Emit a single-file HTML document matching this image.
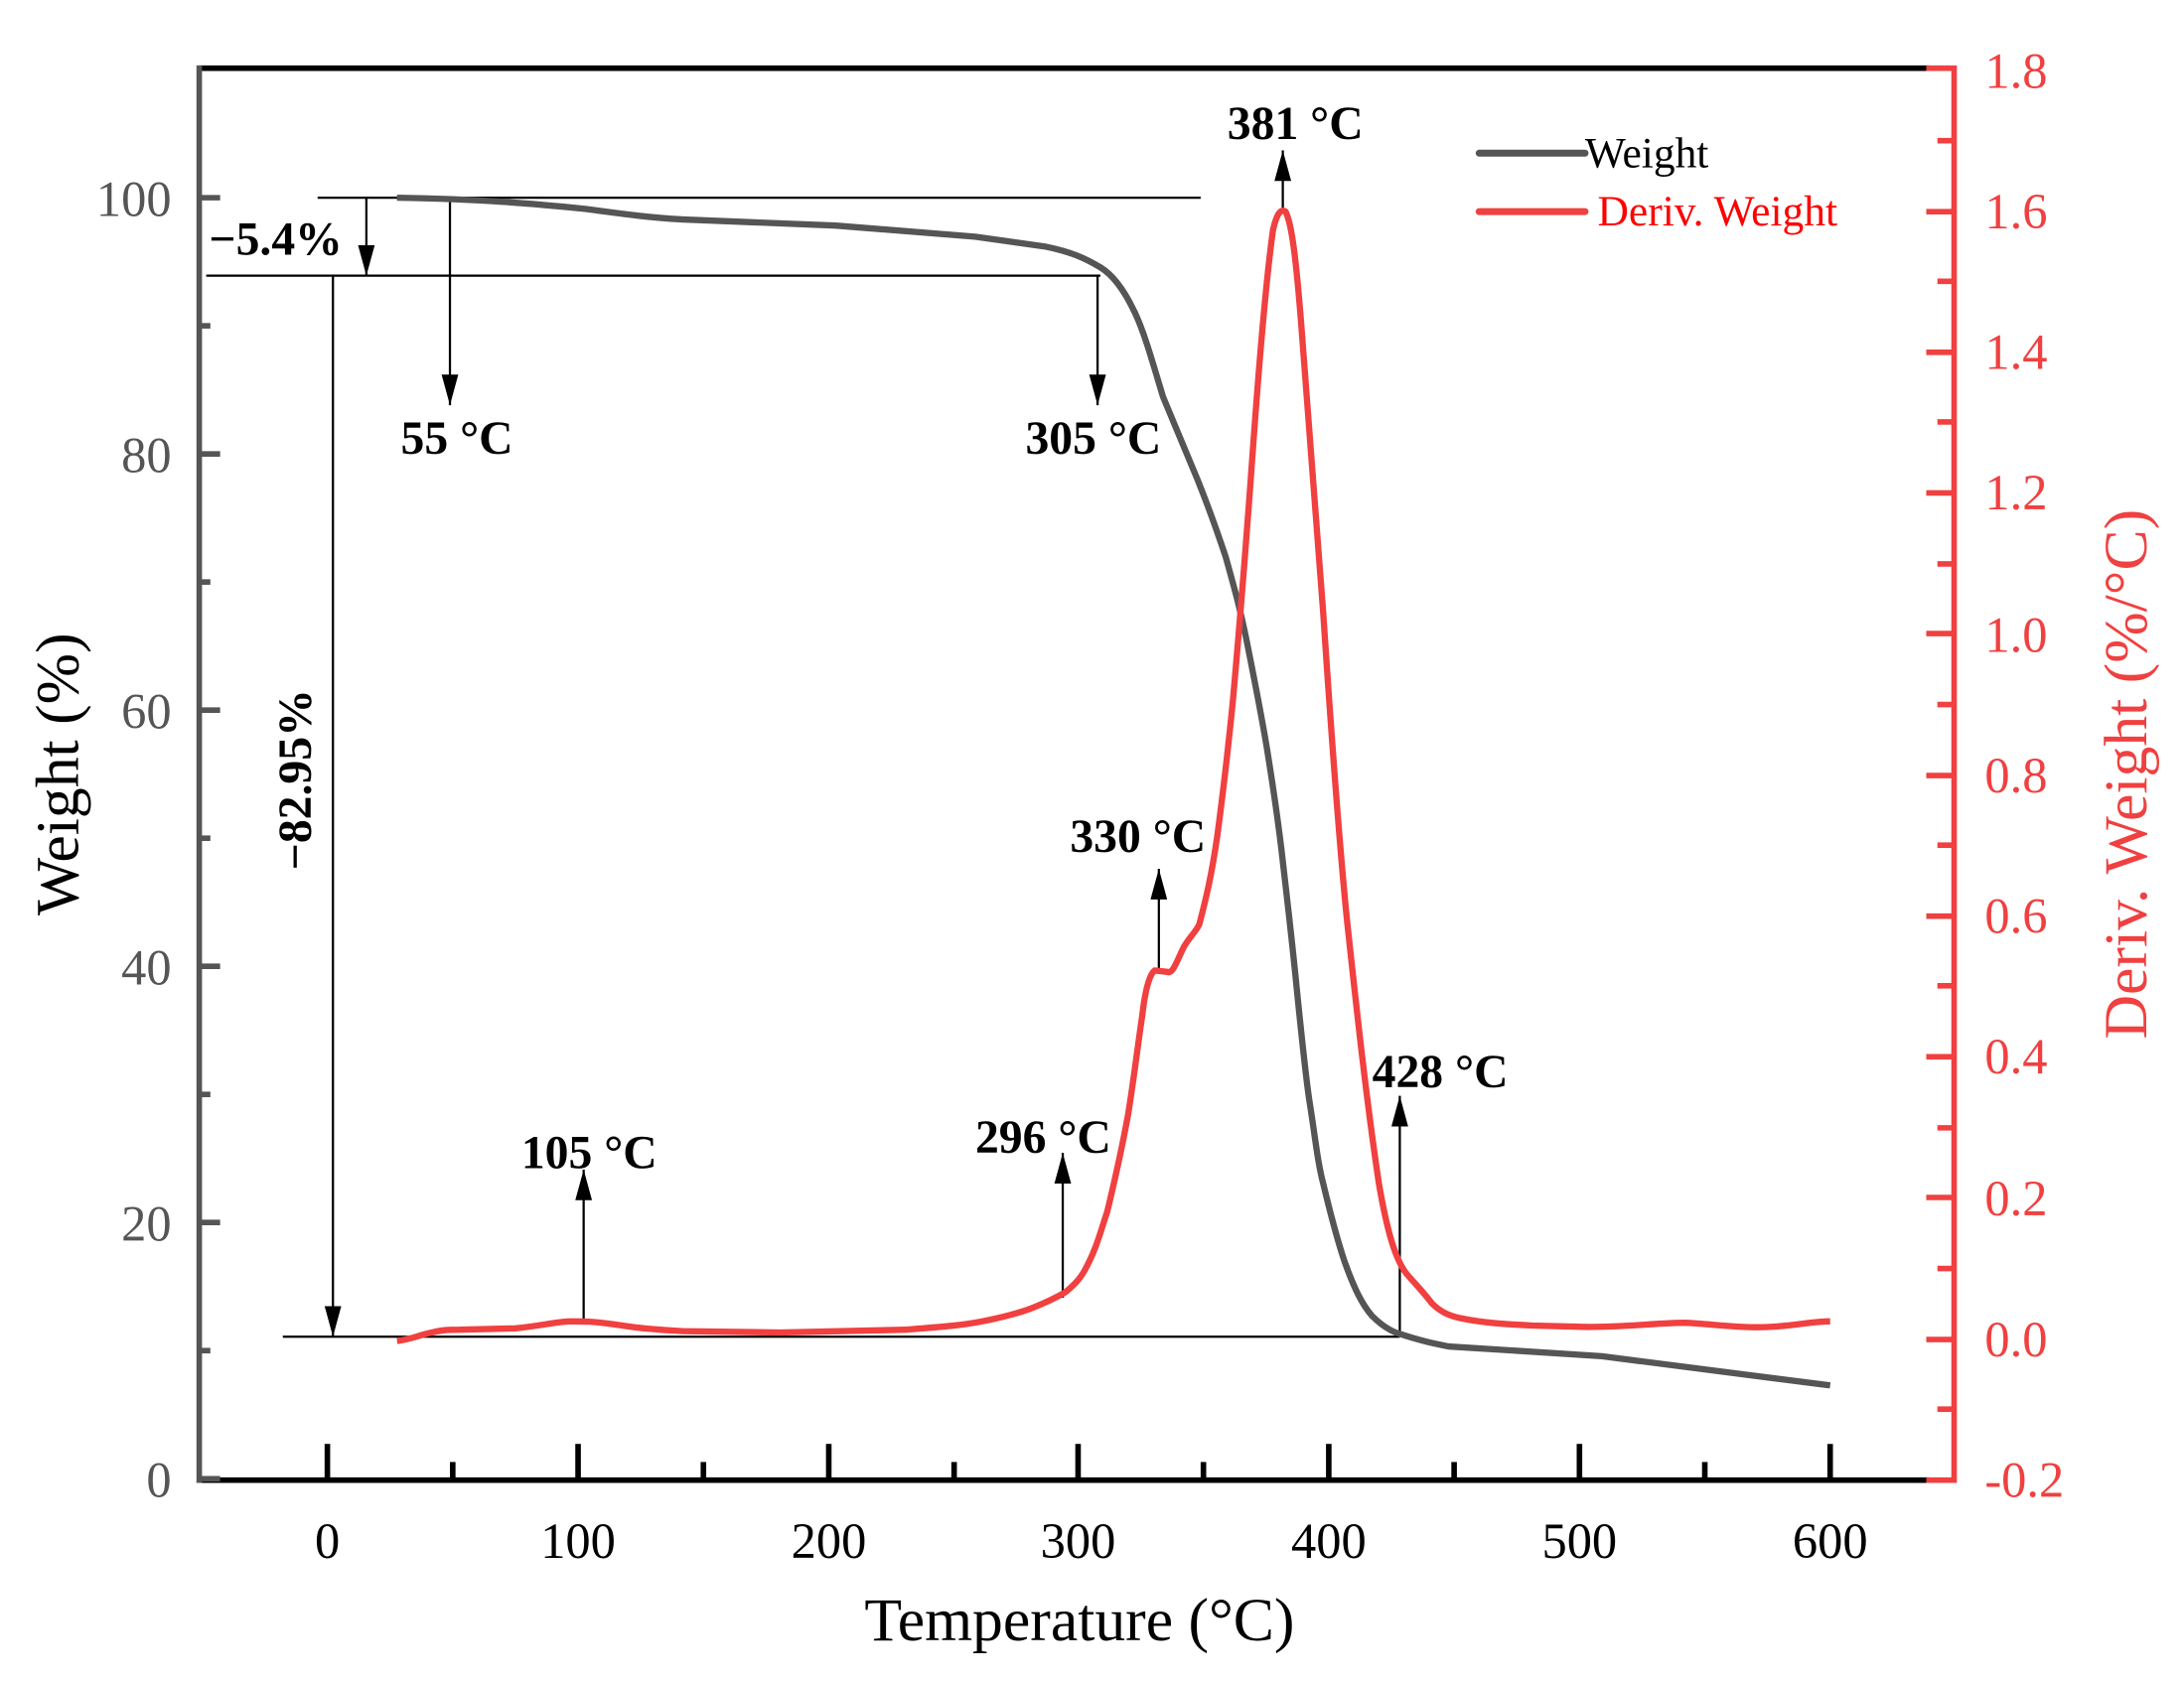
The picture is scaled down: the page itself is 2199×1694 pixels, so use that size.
<!DOCTYPE html>
<html><head><meta charset="utf-8"><style>html,body{margin:0;padding:0;background:#fff}svg{display:block}</style></head><body>
<svg width="2199" height="1694" viewBox="0 0 1568 1208" xmlns="http://www.w3.org/2000/svg" font-family="Liberation Serif, serif">
<defs><marker id="ah" viewBox="0 0 22 12" refX="22" refY="6" markerWidth="22" markerHeight="12" markerUnits="userSpaceOnUse" orient="auto"><path d="M0,0 L22,6 L0,12 Z" fill="#000"/></marker></defs>
<line x1="143" y1="49" x2="1385" y2="49" stroke="#000" stroke-width="4"/>
<line x1="143" y1="1063" x2="1385" y2="1063" stroke="#000" stroke-width="4"/>
<line x1="143" y1="47" x2="143" y2="1065" stroke="#555" stroke-width="4"/>
<path d="M1383,49 H1403 V1063 H1383" fill="none" stroke="#f04040" stroke-width="4"/>
<g stroke="#555" stroke-width="4">
<line x1="143" y1="1062" x2="158" y2="1062"/><line x1="143" y1="970" x2="151" y2="970"/><line x1="143" y1="878" x2="158" y2="878"/><line x1="143" y1="786" x2="151" y2="786"/><line x1="143" y1="694" x2="158" y2="694"/><line x1="143" y1="602" x2="151" y2="602"/><line x1="143" y1="510" x2="158" y2="510"/><line x1="143" y1="418" x2="151" y2="418"/><line x1="143" y1="326" x2="158" y2="326"/><line x1="143" y1="234" x2="151" y2="234"/><line x1="143" y1="142" x2="158" y2="142"/>
</g>
<g stroke="#000" stroke-width="4">
<line x1="235" y1="1063" x2="235" y2="1037"/><line x1="325" y1="1063" x2="325" y2="1050"/><line x1="415" y1="1063" x2="415" y2="1037"/><line x1="505" y1="1063" x2="505" y2="1050"/><line x1="595" y1="1063" x2="595" y2="1037"/><line x1="685" y1="1063" x2="685" y2="1050"/><line x1="774" y1="1063" x2="774" y2="1037"/><line x1="864" y1="1063" x2="864" y2="1050"/><line x1="954" y1="1063" x2="954" y2="1037"/><line x1="1044" y1="1063" x2="1044" y2="1050"/><line x1="1134" y1="1063" x2="1134" y2="1037"/><line x1="1224" y1="1063" x2="1224" y2="1050"/><line x1="1314" y1="1063" x2="1314" y2="1037"/>
</g>
<g stroke="#f04040" stroke-width="4">
<line x1="1403" y1="1012" x2="1391" y2="1012"/><line x1="1403" y1="962" x2="1383" y2="962"/><line x1="1403" y1="911" x2="1391" y2="911"/><line x1="1403" y1="860" x2="1383" y2="860"/><line x1="1403" y1="810" x2="1391" y2="810"/><line x1="1403" y1="759" x2="1383" y2="759"/><line x1="1403" y1="708" x2="1391" y2="708"/><line x1="1403" y1="658" x2="1383" y2="658"/><line x1="1403" y1="607" x2="1391" y2="607"/><line x1="1403" y1="557" x2="1383" y2="557"/><line x1="1403" y1="506" x2="1391" y2="506"/><line x1="1403" y1="455" x2="1383" y2="455"/><line x1="1403" y1="405" x2="1391" y2="405"/><line x1="1403" y1="354" x2="1383" y2="354"/><line x1="1403" y1="303" x2="1391" y2="303"/><line x1="1403" y1="253" x2="1383" y2="253"/><line x1="1403" y1="202" x2="1391" y2="202"/><line x1="1403" y1="152" x2="1383" y2="152"/><line x1="1403" y1="101" x2="1391" y2="101"/>
</g>
<g fill="#555" font-size="36" text-anchor="end">
<text x="123" y="1075">0</text><text x="123" y="891">20</text><text x="123" y="707">40</text><text x="123" y="523">60</text><text x="123" y="339">80</text><text x="123" y="155">100</text>
</g>
<g fill="#000" font-size="36" text-anchor="middle">
<text x="235" y="1119">0</text><text x="415" y="1119">100</text><text x="595" y="1119">200</text><text x="774" y="1119">300</text><text x="954" y="1119">400</text><text x="1134" y="1119">500</text><text x="1314" y="1119">600</text>
</g>
<g fill="#f04040" font-size="36">
<text x="1425" y="1075">-0.2</text><text x="1425" y="974">0.0</text><text x="1425" y="873">0.2</text><text x="1425" y="771">0.4</text><text x="1425" y="670">0.6</text><text x="1425" y="569">0.8</text><text x="1425" y="468">1.0</text><text x="1425" y="366">1.2</text><text x="1425" y="265">1.4</text><text x="1425" y="164">1.6</text><text x="1425" y="63">1.8</text>
</g>
<text x="775" y="1178" font-size="44" text-anchor="middle">Temperature (°C)</text>
<text transform="translate(56,556) rotate(-90)" font-size="44" text-anchor="middle">Weight (%)</text>
<text transform="translate(1541,556) rotate(-90)" font-size="44" text-anchor="middle" fill="#f04040">Deriv. Weight (%/°C)</text>
<line x1="1062" y1="110" x2="1138" y2="110" stroke="#555" stroke-width="5" stroke-linecap="round"/>
<text x="1138" y="120" font-size="31">Weight</text>
<line x1="1062" y1="152" x2="1138" y2="152" stroke="#f04040" stroke-width="5" stroke-linecap="round"/>
<text x="1147" y="162" font-size="31" fill="#f00">Deriv. Weight</text>
<g stroke="#000" stroke-width="1.6" fill="none">
<line x1="228" y1="142" x2="862" y2="142"/><line x1="148" y1="198" x2="790" y2="198"/><line x1="203" y1="960" x2="1005" y2="960"/>
<line x1="239" y1="198" x2="239" y2="960" marker-end="url(#ah)"/>
<line x1="263" y1="142" x2="263" y2="198" marker-end="url(#ah)"/>
<line x1="323" y1="142" x2="323" y2="291" marker-end="url(#ah)"/>
<line x1="788" y1="198" x2="788" y2="291" marker-end="url(#ah)"/>
<line x1="419" y1="950" x2="419" y2="840" marker-end="url(#ah)"/>
<line x1="763" y1="932" x2="763" y2="828" marker-end="url(#ah)"/>
<line x1="832" y1="697" x2="832" y2="624" marker-end="url(#ah)"/>
<line x1="921" y1="150" x2="921" y2="108" marker-end="url(#ah)"/>
<line x1="1005" y1="960" x2="1005" y2="787" marker-end="url(#ah)"/>
</g>
<path d="M285,142 C350,143 390,147 420,150 C450,154 470,157 500,158 L600,162 L700,170 L750,177 C770,181 780,186 790,192 C800,198 808,210 815,225 C822,240 828,262 835,285 L860,345 C870,370 875,385 880,400 C887,425 891,440 895,460 C902,495 906,515 910,540 C914,565 917,585 920,610 C924,645 927,670 930,700 C934,740 937,770 940,790 C944,815 946,835 950,850 C956,875 960,890 965,905 C972,925 978,937 985,945 C992,952 998,956 1005,958 C1020,963 1030,965 1040,967 L1150,974 L1314,995" fill="none" stroke="#555" stroke-width="4.5" stroke-linejoin="round"/>
<path d="M285,963 C295,962 300,959 310,957 C318,955 322,955 330,955 L370,954 C390,952 400,949 410,949 C420,949 425,949 440,951 C460,954 470,955 490,956 L560,957 L650,955 C675,953 690,952 705,949 C720,946 732,943 742,939 C752,935 758,932 765,928 C772,922 776,918 780,910 C787,897 790,885 795,870 C801,845 806,822 810,800 C814,775 817,750 820,730 C822,712 825,700 829,697 L838,698 C842,700 845,690 850,680 C854,673 858,670 861,664 C866,645 870,628 874,600 C878,570 881,545 885,505 C889,460 894,400 899,330 C904,260 909,200 914,165 C917,152 920,150 923,152 C927,160 930,180 934,230 C939,290 944,360 950,440 C956,530 961,600 967,660 C974,725 981,790 990,850 C996,885 1002,905 1010,915 C1016,922 1022,928 1028,936 C1034,942 1040,945 1050,947 C1065,950 1080,951 1100,952 L1140,953 C1170,953 1190,950 1210,950 C1230,951 1250,954 1270,953 C1290,952 1300,949 1314,949" fill="none" stroke="#f04040" stroke-width="4.5" stroke-linejoin="round"/>
<g font-size="34" font-weight="bold" fill="#000">
<text x="930" y="100" text-anchor="middle">381 °C</text>
<text x="328" y="326" text-anchor="middle">55 °C</text>
<text x="785" y="326" text-anchor="middle">305 °C</text>
<text x="817" y="612" text-anchor="middle">330 °C</text>
<text x="423" y="839" text-anchor="middle">105 °C</text>
<text x="749" y="828" text-anchor="middle">296 °C</text>
<text x="1034" y="781" text-anchor="middle">428 °C</text>
<text x="150" y="183">−5.4%</text>
<text transform="translate(223,560) rotate(-90)" text-anchor="middle">−82.95%</text>
</g>
</svg>
</body></html>
